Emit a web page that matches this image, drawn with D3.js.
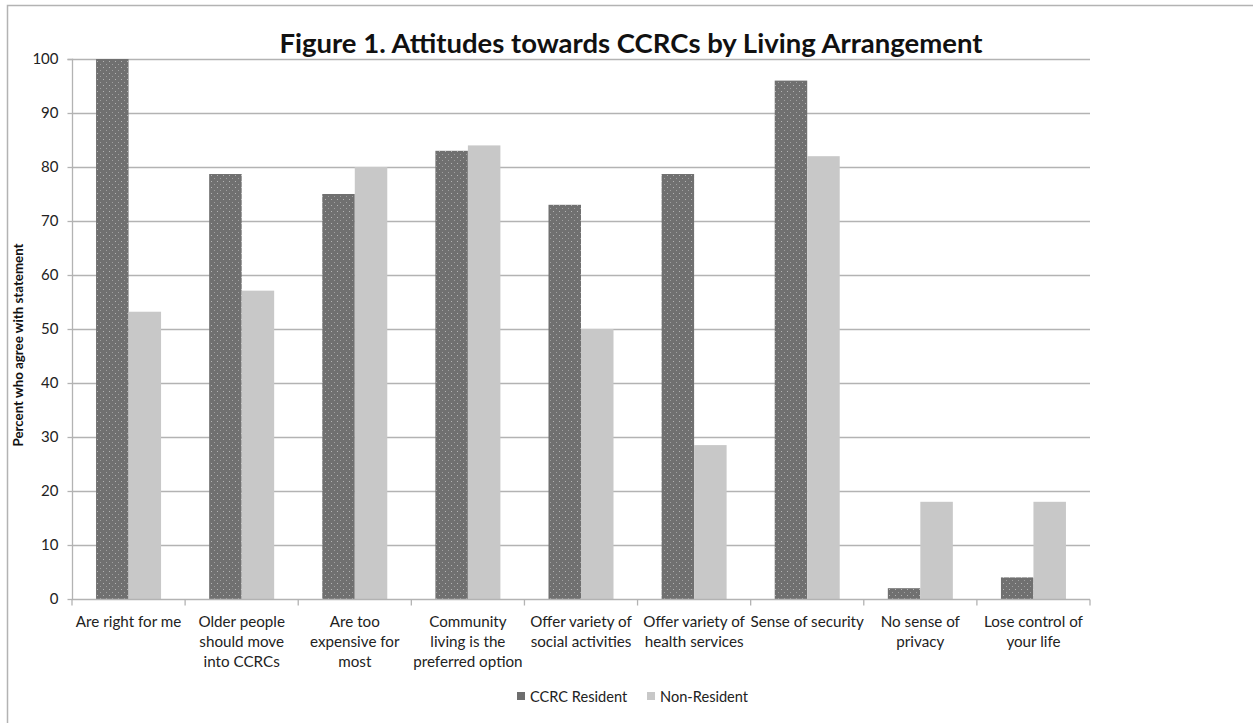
<!DOCTYPE html>
<html><head><meta charset="utf-8">
<script src="https://cdn.jsdelivr.net/npm/d3@7"></script>
<style>
html,body{margin:0;padding:0;background:#fff;}
svg{display:block;font-family:Lato,"Open Sans",sans-serif;}
</style></head>
<body><svg id="c" width="1253" height="723"></svg>
<script>
const categories = [
  ["Are right for me"],
  ["Older people","should move","into CCRCs"],
  ["Are too","expensive for","most"],
  ["Community","living is the","preferred option"],
  ["Offer variety of","social activities"],
  ["Offer variety of","health services"],
  ["Sense of security"],
  ["No sense of","privacy"],
  ["Lose control of","your life"]
];
const seriesNames = ["CCRC Resident","Non-Resident"];
const residentValues = [100, 78.7, 75, 83, 73, 78.7, 96, 2, 4];
const nonResidentValues = [53.2, 57.1, 80, 84, 50, 28.5, 82, 18, 18];
const yTicks = [0,10,20,30,40,50,60,70,80,90,100];
const title = "Figure 1. Attitudes towards CCRCs by Living Arrangement";
const yLabel = "Percent who agree with statement";

(function(){
const svg = d3.select("#c");
const defs = svg.append("defs");
const pat = defs.append("pattern").attr("id","dots").attr("patternUnits","userSpaceOnUse")
  .attr("width",6).attr("height",6);
pat.append("rect").attr("width",6).attr("height",6).attr("fill","#707070");
pat.append("rect").attr("x",1).attr("y",1).attr("width",1).attr("height",1).attr("fill","#b4b4b4");
pat.append("rect").attr("x",4).attr("y",4).attr("width",1).attr("height",1).attr("fill","#a0a0a0");

const colors = ["url(#dots)","#c8c8c8"];
const legendColors = ["#6e6e6e","#c8c8c8"];

// frame
svg.append("rect").attr("x",7.5).attr("y",5.5).attr("width",1300).attr("height",800)
  .attr("fill","none").attr("stroke","#b3b3b3").attr("stroke-width",1.5);

const pL = 72, pR = 1090, pT = 59, pB = 599;
const x = d3.scaleBand().domain(d3.range(categories.length)).range([pL,pR]).padding(0);
const xs = d3.scaleBand().domain([0,1]).range([0,x.bandwidth()]).paddingInner(0).paddingOuter(0.74);
const y = d3.scaleLinear().domain([0,100]).range([pB,pT]);

// gridlines
svg.append("g").selectAll("line").data(yTicks.filter(d=>d>0)).join("line")
  .attr("x1",pL).attr("x2",pR).attr("y1",d=>y(d)+0.5).attr("y2",d=>y(d)+0.5)
  .attr("stroke","#b3b3b3").attr("stroke-width",1.3);

// bars
const data = categories.map((c,i)=>[residentValues[i],nonResidentValues[i]]);
const g = svg.append("g");
data.forEach((vals,i)=>{
  vals.forEach((v,s)=>{
    g.append("rect").attr("x",x(i)+xs(s)).attr("width",xs.bandwidth())
      .attr("y",y(v)).attr("height",y(0)-y(v)).attr("fill",colors[s]);
  });
});

// y axis
const yAxis = d3.axisLeft(y).tickValues(yTicks).tickSize(5).tickPadding(9);
const ya = svg.append("g").attr("transform",`translate(${pL+0.5},0)`).call(yAxis);
ya.select(".domain").attr("stroke","#b3b3b3").attr("stroke-width",1.3).attr("d",`M-5,${pT+0.5}H0V${pB+0.5}`);
ya.selectAll(".tick line").attr("stroke","#b3b3b3").attr("stroke-width",1.3);
ya.selectAll(".tick text").attr("font-size",15).attr("fill","#222").attr("font-family","Lato,sans-serif");

// x axis
const xa = svg.append("g").attr("transform",`translate(0,${pB+0.5})`);
xa.append("line").attr("x1",pL).attr("x2",pR).attr("stroke","#b3b3b3").attr("stroke-width",1.3);
xa.selectAll("line.t").data(d3.range(categories.length+1)).join("line").attr("class","t")
  .attr("x1",d=>pL+d*x.step()).attr("x2",d=>pL+d*x.step()).attr("y1",0).attr("y2",6)
  .attr("stroke","#b3b3b3").attr("stroke-width",1.3);
categories.forEach((lines,i)=>{
  const t = svg.append("text").attr("text-anchor","middle").attr("font-size",15.2)
    .attr("fill","#222").attr("x",x(i)+x.bandwidth()/2).attr("y",627);
  lines.forEach((l,k)=>t.append("tspan").attr("x",x(i)+x.bandwidth()/2).attr("dy",k===0?0:20).text(l));
});

// title
svg.append("text").attr("x",631).attr("y",53).attr("text-anchor","middle")
  .attr("font-size",27.5).attr("font-weight","bold").attr("fill","#111").text(title);

// y label
svg.append("text").attr("transform","translate(23,345) rotate(-90)").attr("text-anchor","middle")
  .attr("font-size",13.3).attr("font-weight","bold").attr("fill","#111").text(yLabel);

// legend
const leg = svg.append("g");
const legX = [517, 647];
seriesNames.forEach((n,s)=>{
  leg.append("rect").attr("x",legX[s]).attr("y",692).attr("width",8).attr("height",8).attr("fill",legendColors[s]);
  leg.append("text").attr("x",legX[s]+13).attr("y",702).attr("font-size",14.6).attr("fill","#222").text(n);
});
})();
</script></body></html>
